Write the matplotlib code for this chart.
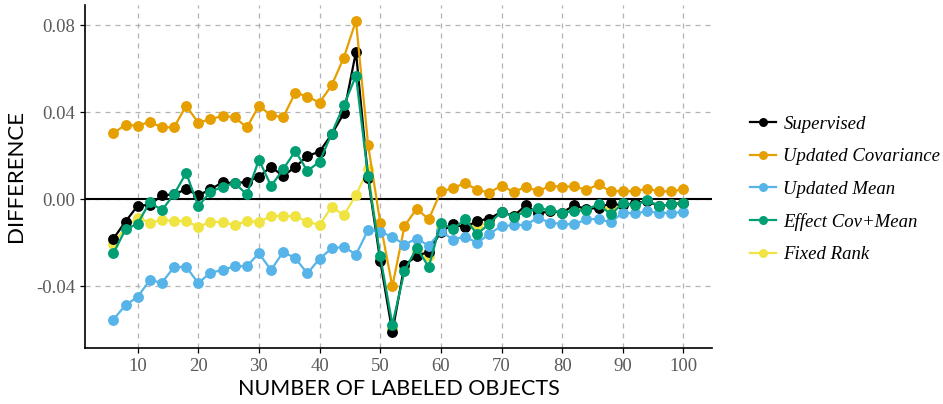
import numpy as np
import matplotlib
matplotlib.use("Agg")
import matplotlib.pyplot as plt

# ---------------------------------------------------------------------------
# Data
# ---------------------------------------------------------------------------
n_labeled = list(range(6, 101, 2))

supervised = [
    -0.0181, -0.0102, -0.0030, -0.0025, 0.0018, 0.0023, 0.0046, 0.0018,
    0.0046, 0.0078, 0.0074, 0.0080, 0.0104, 0.0149, 0.0107, 0.0149,
    0.0199, 0.0219, 0.0299, 0.0395, 0.0677, 0.0097, -0.0282, -0.0610,
    -0.0302, -0.0261, -0.0240, -0.0149, -0.0115, -0.0129, -0.0099, -0.0089,
    -0.0057, -0.0077, -0.0028, -0.0065, -0.0055, -0.0061, -0.0027, -0.0046,
    -0.0038, -0.0019, -0.0028, -0.0017, -0.0009, -0.0031, -0.0023, -0.0015,
]
updated_cov = [
    0.0303, 0.0343, 0.0337, 0.0356, 0.0330, 0.0331, 0.0429, 0.0352,
    0.0368, 0.0383, 0.0377, 0.0330, 0.0429, 0.0386, 0.0377, 0.0490,
    0.0472, 0.0444, 0.0524, 0.0651, 0.0820, 0.0250, -0.0107, -0.0400,
    -0.0123, -0.0043, -0.0092, 0.0036, 0.0051, 0.0075, 0.0043, 0.0031,
    0.0063, 0.0034, 0.0057, 0.0038, 0.0061, 0.0058, 0.0059, 0.0043,
    0.0069, 0.0036, 0.0039, 0.0037, 0.0049, 0.0036, 0.0037, 0.0046,
]
updated_mean = [
    -0.0552, -0.0486, -0.0448, -0.0371, -0.0383, -0.0311, -0.0310, -0.0385,
    -0.0337, -0.0325, -0.0307, -0.0307, -0.0248, -0.0325, -0.0241, -0.0271,
    -0.0340, -0.0273, -0.0225, -0.0218, -0.0254, -0.0141, -0.0149, -0.0172,
    -0.0208, -0.0180, -0.0213, -0.0146, -0.0185, -0.0171, -0.0201, -0.0158,
    -0.0123, -0.0119, -0.0117, -0.0085, -0.0107, -0.0113, -0.0115, -0.0092,
    -0.0090, -0.0106, -0.0061, -0.0065, -0.0055, -0.0062, -0.0063, -0.0058,
]
effect_cov_mean = [
    -0.0248, -0.0138, -0.0112, -0.0013, -0.0050, 0.0023, 0.0121, -0.0031,
    0.0034, 0.0058, 0.0074, 0.0023, 0.0182, 0.0061, 0.0138, 0.0222,
    0.0130, 0.0173, 0.0302, 0.0432, 0.0567, 0.0105, -0.0261, -0.0575,
    -0.0330, -0.0223, -0.0310, -0.0108, -0.0137, -0.0092, -0.0159, -0.0112,
    -0.0057, -0.0079, -0.0057, -0.0042, -0.0049, -0.0061, -0.0054, -0.0048,
    -0.0022, -0.0069, -0.0019, -0.0028, -0.0004, -0.0031, -0.0021, -0.0015,
]
fixed_rank = [
    -0.0207, -0.0128, -0.0085, -0.0107, -0.0096, -0.0099, -0.0100, -0.0126,
    -0.0104, -0.0104, -0.0119, -0.0100, -0.0104, -0.0077, -0.0077, -0.0077,
    -0.0103, -0.0118, -0.0034, -0.0074, 0.0020, 0.0137, -0.0272, -0.0592,
    -0.0315, -0.0242, -0.0262, -0.0128, -0.0125, -0.0110, -0.0128, -0.0100,
    -0.0057, -0.0078, -0.0042, -0.0055, -0.0052, -0.0061, -0.0040, -0.0047,
    -0.0030, -0.0044, -0.0023, -0.0022, -0.0007, -0.0031, -0.0022, -0.0015,
]

# name, values, colour, drawing order (Fixed Rank sits underneath)
series = [
    ("Supervised", supervised, "#000000", 4),
    ("Updated Covariance", updated_cov, "#E69F00", 5),
    ("Updated Mean", updated_mean, "#56B4E9", 6),
    ("Effect Cov+Mean", effect_cov_mean, "#009E73", 7),
    ("Fixed Rank", fixed_rank, "#F0E442", 3),
]

x_ticks = [10, 20, 30, 40, 50, 60, 70, 80, 90, 100]
y_ticks = [-0.04, 0.00, 0.04, 0.08]

TICK_FONT = "Liberation Serif"
TITLE_FONT = "Lato"
GRID_C = "#B3B3B3"

fig = plt.figure(figsize=(9.43, 4.04), dpi=100)
ax = fig.add_axes([0.090, 0.139, 0.665, 0.849])

for name, vals, col, z in series:
    ax.plot(n_labeled, vals, color=col, lw=1.6, marker="o", ms=6.8,
            mec=col, mfc=col, label=name, zorder=z)

ax.axhline(0, color="black", lw=1.5, zorder=2)

ax.set_xlim(1.3, 104.7)
ax.set_ylim(-0.0682, 0.0893)
ax.set_xticks(x_ticks)
ax.set_yticks(y_ticks)
ax.set_yticklabels([f"{v:.2f}" for v in y_ticks])
ax.grid(True, color=GRID_C, lw=0.9, ls=(0, (4, 4)), zorder=0)
ax.set_axisbelow(True)

for s in ("top", "right"):
    ax.spines[s].set_visible(False)
for s in ("left", "bottom"):
    ax.spines[s].set_linewidth(1.2)
ax.tick_params(length=3.5, width=0.9, colors="black", labelcolor="#5A5A5A",
               labelsize=13.5)
for lab in ax.get_xticklabels() + ax.get_yticklabels():
    lab.set_fontfamily(TICK_FONT)

ax.set_xlabel("NUMBER OF LABELED OBJECTS", fontfamily=TITLE_FONT,
              fontsize=15.5, labelpad=3)
ax.set_ylabel("DIFFERENCE", fontfamily=TITLE_FONT, fontsize=16, labelpad=7)

handles, labels = ax.get_legend_handles_labels()
fig.legend(handles, labels, loc="center left", bbox_to_anchor=(0.795, 0.531),
           frameon=False, borderpad=0, borderaxespad=0,
           handlelength=1.4, handletextpad=0.4,
           labelspacing=0.82, markerscale=0.8,
           prop={"family": TICK_FONT, "style": "italic", "size": 13.5})

fig.savefig("out.png", dpi=100)
